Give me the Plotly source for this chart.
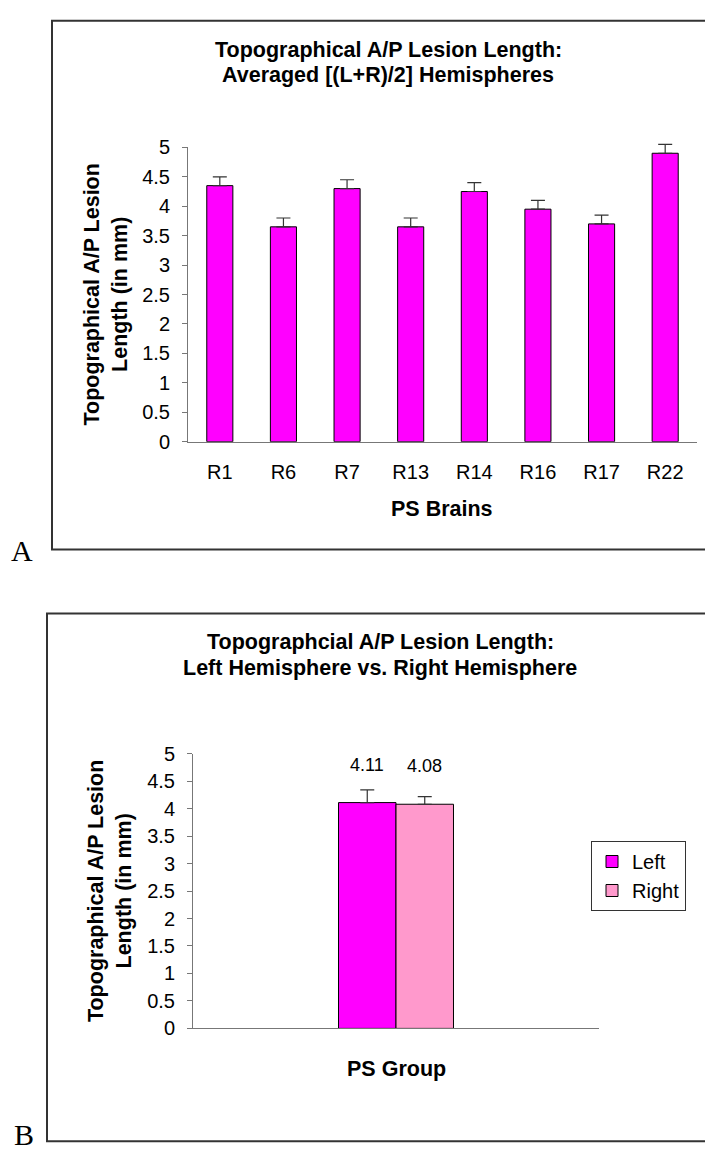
import plotly.graph_objects as go

# ---------------- data ----------------
brains = ["R1", "R6", "R7", "R13", "R14", "R16", "R17", "R22"]
avg_length = [4.35, 3.65, 4.30, 3.65, 4.25, 3.95, 3.70, 4.90]
avg_err = [0.15, 0.15, 0.15, 0.15, 0.15, 0.15, 0.15, 0.15]

group_cat = ["PS Group"]
left_len = [4.11]
right_len = [4.08]
left_err = [0.23]
right_err = [0.14]

y_ticks = [0, 0.5, 1, 1.5, 2, 2.5, 3, 3.5, 4, 4.5, 5]
y_tick_text = ["0", "0.5", "1", "1.5", "2", "2.5", "3", "3.5", "4", "4.5", "5"]

W, H = 705, 1164
def fx(px):
    return px / W
def fy(py):
    return 1 - py / H

SANS = "Liberation Sans, Arial, sans-serif"
SERIF = "Liberation Serif, Times New Roman, serif"
MAGENTA = "#FF00FF"
PINK = "#FF99CC"
AXIS = "#777777"
TITLE_SIZE = 21.5

fig = go.Figure()

# Panel A: invisible helper trace so the visible axis pair (x, y) exists
fig.add_trace(go.Scatter(
    x=brains, y=[0] * len(brains), mode="none", xaxis="x", yaxis="y",
    showlegend=False, hoverinfo="skip",
))
# Bars are drawn on a hidden, slightly taller axis so the R22 error cap is not clipped
fig.add_trace(go.Bar(
    x=brains, y=avg_length, width=0.41, cliponaxis=False,
    marker=dict(color=MAGENTA, line=dict(color="#000000", width=1)),
    error_y=dict(type="data", array=avg_err, arrayminus=[0] * len(avg_err), symmetric=False,
                 color="#333333", thickness=1.2, width=7),
    xaxis="x", yaxis="y3", showlegend=False, hoverinfo="skip",
))

# Panel B
bw = 0.1416
fig.add_trace(go.Bar(
    name="Left", x=group_cat, y=left_len, width=bw, offset=-bw, cliponaxis=False,
    legendgroup="L",
    marker=dict(color=MAGENTA, line=dict(color="#000000", width=1)),
    error_y=dict(type="data", array=left_err, arrayminus=[0], symmetric=False,
                 color="#333333", thickness=1.2, width=7),
    xaxis="x2", yaxis="y2", hoverinfo="skip",
))
fig.add_trace(go.Bar(
    name="Right", x=group_cat, y=right_len, width=bw, offset=0, cliponaxis=False,
    legendgroup="R",
    marker=dict(color=PINK, line=dict(color="#000000", width=1)),
    error_y=dict(type="data", array=right_err, arrayminus=[0], symmetric=False,
                 color="#333333", thickness=1.2, width=7),
    xaxis="x2", yaxis="y2", hoverinfo="skip",
))

yaxis_common = dict(
    range=[0, 5], tickvals=y_ticks, ticktext=y_tick_text,
    ticks="outside", ticklen=5, tickcolor=AXIS, tickwidth=1,
    showline=True, linecolor=AXIS, linewidth=1, showgrid=False, zeroline=False,
    tickfont=dict(family=SANS, size=20, color="#000000"),
    ticklabelstandoff=8, fixedrange=True,
)

# pixels per unit in panel A = 60 -> extra 0.2 units = 12 px
A_TOP_EXTRA = 0.2

fig.update_layout(
    width=W, height=H,
    margin=dict(l=0, r=0, t=0, b=0),
    paper_bgcolor="white", plot_bgcolor="rgba(0,0,0,0)",
    showlegend=True,
    legend=dict(
        x=fx(591), y=fy(846), xanchor="left", yanchor="top",
        bordercolor="#333333", borderwidth=1, bgcolor="white",
        font=dict(family=SANS, size=20, color="#000000"),
        itemwidth=30, tracegroupgap=3, traceorder="normal",
    ),
    xaxis=dict(
        domain=[fx(188), fx(697)], anchor="y",
        showline=True, linecolor=AXIS, linewidth=1, ticks="", showgrid=False,
        tickfont=dict(family=SANS, size=20, color="#000000"),
        ticklabelstandoff=12, fixedrange=True,
    ),
    yaxis=dict(domain=[fy(439), fy(139)], anchor="x", **yaxis_common),
    yaxis3=dict(domain=[fy(439), fy(139 - 60 * A_TOP_EXTRA)], anchor="x",
                range=[0, 5 + A_TOP_EXTRA], visible=False, fixedrange=True),
    xaxis2=dict(
        domain=[fx(193), fx(599)], anchor="y2",
        showline=True, linecolor=AXIS, linewidth=1, ticks="", showgrid=False,
        showticklabels=False, fixedrange=True,
    ),
    yaxis2=dict(domain=[fy(1037), fy(757)], anchor="x2", **yaxis_common),
)

ann = []
# titles
ann.append(dict(text="Topographical A/P Lesion Length:", x=fx(388), y=fy(40)))
ann.append(dict(text="Averaged [(L+R)/2] Hemispheres", x=fx(388), y=fy(65)))
ann.append(dict(text="Topographcial A/P Lesion Length:", x=fx(380), y=fy(643)))
ann.append(dict(text="Left Hemisphere vs. Right Hemisphere", x=fx(380), y=fy(670)))
# axis titles
ann.append(dict(text="PS Brains", x=fx(442), y=fy(508)))
ann.append(dict(text="PS Group", x=fx(396), y=fy(1078)))
ann.append(dict(text="Topographical A/P Lesion<br>Length (in mm)", x=fx(106), y=fy(289), textangle=-90))
ann.append(dict(text="Topographical A/P Lesion<br>Length (in mm)", x=fx(110), y=fy(897), textangle=-90))
for a in ann:
    a.update(xref="paper", yref="paper", xanchor="center", yanchor="middle",
             showarrow=False, font=dict(family=SANS, size=TITLE_SIZE, color="#000000", weight="bold"))
    fig.add_annotation(**a)

# data labels for panel B
for val, xpos in [(left_len[0], -bw / 2), (right_len[0], bw / 2)]:
    fig.add_annotation(text=f"{val:.2f}", x=xpos, y=val, xref="x2", yref="y2",
                       yshift=38, showarrow=False, xanchor="center", yanchor="middle",
                       font=dict(family=SANS, size=18, color="#000000"))

# panel letters
fig.add_annotation(text="A", x=fx(22), y=fy(550), xref="paper", yref="paper", showarrow=False,
                   xanchor="center", yanchor="middle", font=dict(family=SERIF, size=30, color="#000000"))
fig.add_annotation(text="B", x=fx(24), y=fy(1145), xref="paper", yref="paper", showarrow=False,
                   xanchor="center", yanchor="middle", font=dict(family=SERIF, size=30, color="#000000"))

# chart-area frames
fig.add_shape(type="rect", xref="paper", yref="paper", x0=fx(52), x1=fx(740), y0=fy(549), y1=fy(10),
              line=dict(color="#333333", width=2), fillcolor="rgba(0,0,0,0)", layer="below")
fig.add_shape(type="rect", xref="paper", yref="paper", x0=fx(47), x1=fx(740), y0=fy(1152), y1=fy(614),
              line=dict(color="#333333", width=2), fillcolor="rgba(0,0,0,0)", layer="below")

fig.write_html("out.html", config={"displayModeBar": False})
